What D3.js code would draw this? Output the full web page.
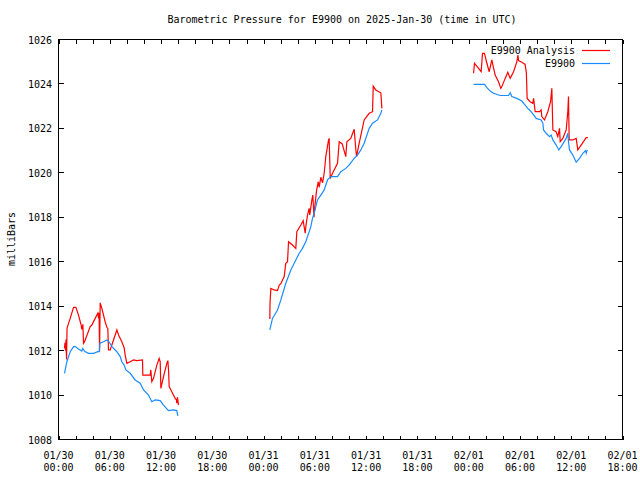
<!DOCTYPE html>
<html>
<head>
<meta charset="utf-8">
<script src="https://cdn.jsdelivr.net/npm/d3@7"></script>
<style>
  html, body { margin: 0; padding: 0; background: #fff; }
  text { font-family: "DejaVu Sans Mono", "Liberation Mono", monospace; font-size: 10px; fill: #000; }
</style>
</head>
<body>
<svg id="chart" width="640" height="480"></svg>
<script>
// ---- Data (hours since 2025-01-30 00:00 UTC, pressure in mb) ----
const titleText = "Barometric Pressure for E9900 on 2025-Jan-30 (time in UTC)";
const yLabel = "milliBars";
const seriesNames = ["E9900 Analysis", "E9900"];
const seriesColors = ["#ff0000", "#1a8cff"];
const yTicks = [1008, 1010, 1012, 1014, 1016, 1018, 1020, 1022, 1024, 1026];
const xMajorHours = [0, 6, 12, 18, 24, 30, 36, 42, 48, 54, 60, 66];

const analysisSeg1 = [[0.70,1012.1],[0.76,1012.35],[0.82,1012.0],[0.88,1012.5],[0.94,1011.6],[1.00,1013.0],[1.05,1013.08],[1.37,1013.45],[1.76,1013.95],[2.03,1013.95],[2.34,1013.6],[2.65,1013.15],[2.73,1012.95],[2.85,1013.18],[2.93,1012.33],[3.05,1012.4],[3.71,1013.08],[3.90,1013.15],[4.29,1013.45],[4.60,1013.68],[4.69,1013.45],[4.75,1013.7],[4.80,1011.95],[4.88,1014.15],[5.07,1013.9],[5.46,1013.3],[5.66,1013.05],[5.77,1013.0],[5.85,1012.03],[6.05,1012.03],[6.24,1012.25],[6.83,1012.93],[7.03,1012.7],[7.41,1012.4],[7.68,1012.13],[7.80,1011.8],[8.0,1011.43],[8.39,1011.5],[8.78,1011.58],[9.17,1011.55],[9.83,1011.58],[9.87,1010.9],[10.73,1010.9],[10.8,1011.13],[10.92,1010.6],[11.12,1010.75],[11.51,1011.35],[11.78,1011.65],[11.9,1011.5],[11.98,1010.3],[12.29,1010.83],[12.68,1011.43],[12.8,1011.55],[12.88,1011.1],[12.95,1010.38],[13.26,1010.15],[13.65,1009.85],[13.8,1009.78],[13.84,1009.63],[13.92,1009.9],[14.04,1009.55]];
const analysisSeg2 = [[24.73,1013.42],[24.75,1014.13],[24.85,1014.8],[25.24,1014.73],[25.63,1014.7],[25.83,1014.95],[26.0,1015.0],[26.41,1015.33],[26.6,1015.93],[26.8,1016.0],[26.92,1016.9],[27.38,1016.75],[27.77,1016.6],[27.89,1017.35],[28.36,1017.65],[28.63,1017.85],[28.87,1017.28],[28.95,1017.6],[29.14,1018.1],[29.33,1018.4],[29.4,1018.1],[29.65,1018.78],[29.76,1019.0],[29.9,1018.0],[30.0,1018.5],[30.2,1019.2],[30.4,1019.6],[30.5,1019.35],[30.7,1019.8],[30.9,1019.55],[31.09,1019.98],[31.28,1020.73],[31.6,1021.48],[31.67,1021.55],[31.8,1019.75],[32.07,1019.98],[32.65,1020.43],[32.85,1021.4],[33.2,1021.3],[33.62,1020.73],[33.74,1021.4],[34.2,1021.55],[34.6,1021.96],[34.8,1021.03],[34.88,1020.73],[35.18,1021.33],[35.77,1022.38],[36.36,1022.68],[36.75,1022.75],[36.83,1023.9],[37.13,1023.73],[37.72,1023.6],[37.84,1022.9]];
const analysisSeg3 = [[48.57,1024.48],[48.68,1024.93],[49.0,1024.78],[49.46,1024.55],[49.62,1025.38],[49.85,1025.38],[50.13,1024.93],[50.4,1024.55],[50.71,1025.08],[50.9,1024.73],[51.1,1024.4],[51.49,1024.1],[51.76,1023.8],[51.88,1023.88],[52.27,1024.25],[52.58,1024.52],[52.86,1024.25],[53.25,1024.55],[53.64,1025.0],[53.76,1025.3],[53.84,1025.05],[54.22,1024.98],[54.6,1024.88],[54.75,1024.5],[54.84,1023.35],[55.19,1023.2],[55.5,1023.13],[55.6,1023.35],[55.78,1022.75],[56.3,1022.75],[56.48,1022.83],[56.56,1022.53],[56.87,1022.38],[57.26,1022.75],[57.58,1023.2],[57.73,1023.8],[57.85,1021.93],[58.23,1021.85],[58.43,1021.63],[58.63,1022.0],[58.71,1021.4],[59.02,1021.55],[59.41,1021.93],[59.6,1022.75],[59.68,1023.43],[59.76,1021.48],[60.19,1021.48],[60.58,1021.55],[60.77,1021.03],[61.16,1021.25],[61.75,1021.58],[61.95,1021.58]];

const stationSeg1 = [[0.70,1010.98],[0.98,1011.5],[1.37,1011.95],[1.76,1012.18],[1.95,1012.18],[2.34,1012.07],[2.73,1011.98],[2.85,1012.1],[3.05,1011.97],[3.51,1011.88],[4.10,1011.88],[4.60,1011.95],[4.77,1011.95],[4.84,1012.33],[5.27,1012.4],[5.66,1012.48],[5.86,1012.43],[6.25,1012.18],[6.83,1011.95],[7.22,1011.73],[7.41,1011.5],[7.68,1011.35],[7.88,1011.13],[8.39,1010.98],[8.97,1010.68],[9.56,1010.53],[9.95,1010.23],[10.53,1010.0],[10.92,1009.7],[11.31,1009.78],[11.9,1009.75],[12.29,1009.55],[12.87,1009.3],[13.46,1009.33],[13.84,1009.3],[13.96,1009.06]];
const stationSeg2 = [[24.73,1012.93],[25.04,1013.45],[25.63,1013.83],[26.02,1014.28],[26.6,1015.03],[27.19,1015.63],[27.77,1016.08],[28.17,1016.38],[28.55,1016.6],[28.94,1016.9],[29.53,1017.58],[29.72,1017.95],[29.92,1018.18],[30.11,1018.48],[30.31,1018.78],[30.7,1019.0],[31.09,1019.23],[31.48,1019.68],[31.87,1019.83],[32.65,1019.83],[33.04,1020.05],[33.62,1020.2],[34.0,1020.35],[34.6,1020.65],[34.99,1020.8],[35.38,1021.03],[35.77,1021.33],[36.36,1022.0],[36.75,1022.23],[37.33,1022.38],[37.72,1022.68],[37.84,1022.83]];
const stationSeg3 = [[48.57,1023.98],[49.85,1023.98],[50.13,1023.83],[50.52,1023.68],[50.9,1023.58],[51.68,1023.48],[52.66,1023.48],[52.86,1023.6],[53.05,1023.43],[53.64,1023.35],[54.22,1023.23],[54.53,1023.08],[54.92,1022.9],[55.31,1022.75],[55.9,1022.45],[56.48,1022.38],[56.68,1022.23],[56.76,1021.93],[57.07,1021.78],[57.46,1021.63],[57.65,1021.7],[57.85,1021.48],[58.24,1021.25],[58.55,1021.03],[58.82,1021.18],[59.41,1021.55],[59.6,1021.78],[59.68,1021.4],[59.8,1021.03],[60.19,1020.8],[60.58,1020.48],[60.97,1020.65],[61.36,1020.88],[61.67,1021.0],[61.75,1020.88],[61.87,1021.03]];

// ---- Chart ----
const t0 = Date.UTC(2025, 0, 30, 0, 0);
const toDate = h => new Date(t0 + h * 3600e3);

const L = 58.5, R = 622.5, T = 39.5, B = 439.5;
const svg = d3.select("#chart");
svg.append("rect").attr("width", 640).attr("height", 480).attr("fill", "#fff");

const x = d3.scaleUtc().domain([toDate(0), toDate(66)]).range([L, R]);
const y = d3.scaleLinear().domain([1008, 1026]).range([B, T]);

// title
svg.append("text").attr("x", 342).attr("y", 23).attr("text-anchor", "middle").text(titleText);

// y label
svg.append("text").attr("transform", "translate(15,239) rotate(-90)")
  .attr("text-anchor", "middle").text(yLabel);

// ticks
const g = svg.append("g").attr("stroke", "#000").attr("stroke-width", 1).attr("shape-rendering", "crispEdges");
const minorDates = d3.utcHour.every(2).range(toDate(0), toDate(66.01));
minorDates.forEach(d => {
  const xp = Math.round(x(d)) + 0.5;
  g.append("line").attr("x1", xp).attr("x2", xp).attr("y1", B).attr("y2", B - 4);
  g.append("line").attr("x1", xp).attr("x2", xp).attr("y1", T).attr("y2", T + 4);
});
yTicks.forEach(v => {
  const yp = Math.round(y(v) - 0.5) + 0.5;
  g.append("line").attr("x1", L).attr("x2", L + 5).attr("y1", yp).attr("y2", yp);
  g.append("line").attr("x1", R).attr("x2", R - 5).attr("y1", yp).attr("y2", yp);
});

// y tick labels
const fmtY = d3.format("d");
svg.append("g").selectAll("text").data(yTicks).join("text")
  .attr("x", 52).attr("y", d => y(d) + 4).attr("text-anchor", "end").text(d => fmtY(d));

// x tick labels
const fmtD = d3.utcFormat("%m/%d"), fmtH = d3.utcFormat("%H:%M");
const xl = svg.append("g").selectAll("g").data(xMajorHours.map(toDate)).join("g");
xl.append("text").attr("x", d => x(d)).attr("y", 459).attr("text-anchor", "middle").text(d => fmtD(d));
xl.append("text").attr("x", d => x(d)).attr("y", 471).attr("text-anchor", "middle").text(d => fmtH(d));

// series
const line = d3.line().x(d => x(toDate(d[0]))).y(d => y(d[1]));
const seriesData = [[analysisSeg1, analysisSeg2, analysisSeg3], [stationSeg1, stationSeg2, stationSeg3]];
seriesData.forEach((segs, i) => {
  segs.forEach(seg => {
    svg.append("path").attr("d", line(seg)).attr("fill", "none")
      .attr("stroke", seriesColors[i]).attr("stroke-width", 1.2);
  });
});

// frame
svg.append("rect").attr("x", L).attr("y", T).attr("width", R - L).attr("height", B - T)
  .attr("fill", "none").attr("stroke", "#000").attr("stroke-width", 1).attr("shape-rendering", "crispEdges");

// legend
const legY = [50, 63];
seriesNames.forEach((name, i) => {
  svg.append("text").attr("x", 575).attr("y", legY[i] + 4).attr("text-anchor", "end").text(name);
  svg.append("line").attr("x1", 582).attr("x2", 610).attr("y1", legY[i] + 0.5).attr("y2", legY[i] + 0.5)
    .attr("stroke", seriesColors[i]).attr("stroke-width", 1.2);
});
</script>
</body>
</html>
